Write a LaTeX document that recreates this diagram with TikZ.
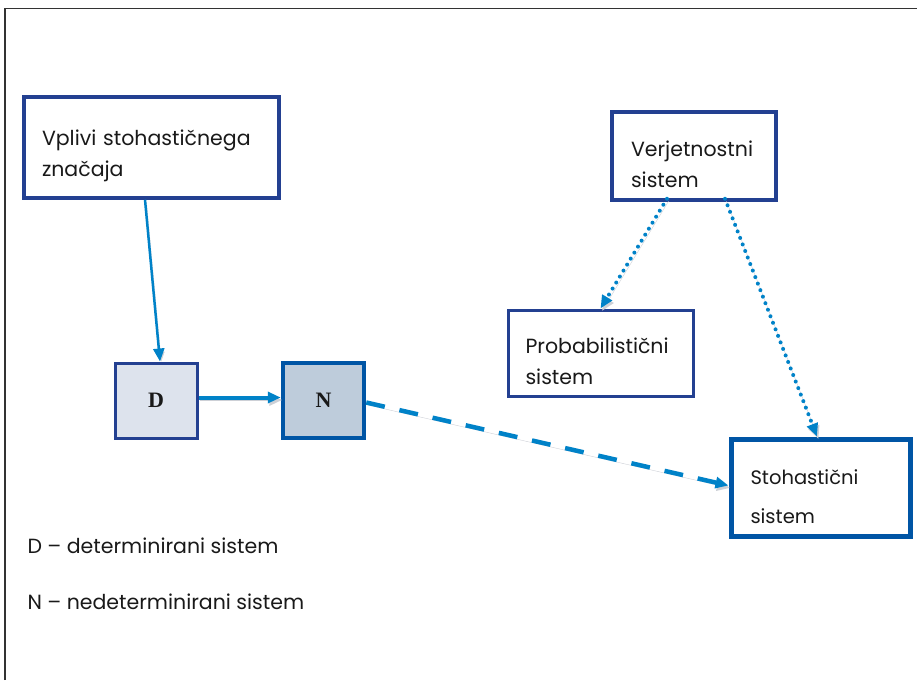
\documentclass[tikz,border=0pt]{standalone}
\usepackage{fontspec}
\setmainfont{Poppins}
\newfontfamily\boxserif{Liberation Serif}
\usetikzlibrary{arrows.meta, positioning, calc}
\definecolor{mynavy}{RGB}{35,64,145}
\definecolor{myblue}{RGB}{0,85,165}
\definecolor{myarrow}{RGB}{0,130,200}
\definecolor{mytext}{RGB}{25,25,25}
\definecolor{dfill}{RGB}{221,227,237}
\definecolor{nfill}{RGB}{190,204,219}
\definecolor{myshadow}{RGB}{205,208,214}
\tikzset{
  textbox/.style={rectangle, draw=mynavy, fill=white, line width=3.5pt,
    align=left, font=\fontsize{20.5}{31}\selectfont, text=mytext,
    inner sep=0pt, execute at begin node={\rule{0pt}{33pt}}},
  letterbox/.style={rectangle, draw=mynavy, line width=3pt,
    minimum width=82pt, minimum height=75pt, inner sep=0pt,
    font=\boxserif\bfseries\fontsize{22}{24}\selectfont, text=mytext},
  shadowed/.style={preaction={draw=myshadow, transform canvas={shift={(1.5pt,-2.5pt)}}}},
  link/.style={myarrow, shadowed, -{Triangle[length=13pt,width=11pt]}},
  legend/.style={anchor=west, font=\fontsize{20.5}{24}\selectfont, text=mytext}
}

\begin{document}
\begin{tikzpicture}[x=1pt, y=-1pt]
  \useasboundingbox (0,0) rectangle (917,680);
  % Frame
  \draw[line width=1.2pt, black!80] (5,680) -- (5,8.5) -- (917,8.5);

  % Boxes
  \node[textbox, minimum width=255pt, minimum height=101pt, text width=219pt]
    (vplivi) at (151.5,147.5) {Vplivi stohastičnega\\značaja};
  \node[letterbox, fill=dfill] (det) at (156,400.5) {D};
  \node[letterbox, fill=nfill, draw=myblue, line width=4.5pt,
    minimum width=81pt] (nedet) at (323.5,400.5) {N};
  \node[textbox, minimum width=164pt, minimum height=88pt, text width=126pt]
    (verj) at (694,156) {Verjetnostni\\sistem};
  \node[textbox, line width=3pt, minimum width=185pt, minimum height=86pt,
    text width=150pt] (prob) at (600.5,353) {Probabilistični\\sistem};
  \node[textbox, draw=myblue, line width=5pt, minimum width=179pt,
    minimum height=97pt, text width=140pt,
    font=\fontsize{19.5}{39}\selectfont] (stoh) at (820.5,487.5) {Stohastični\\sistem};

  % Connectors
  \draw[link, line width=2.5pt] ([xshift=-6.5pt]vplivi.south) -- ([xshift=4pt]det.north);
  \draw[link, line width=4pt] ([yshift=3pt]det.east) -- ([yshift=3pt]nedet.west);
  \draw[link, line width=4.5pt, dash pattern=on 19pt off 15pt]
    ([yshift=-2pt]nedet.east) -- ([yshift=2pt]stoh.west);
  \draw[link, line width=4pt, line cap=round, dash pattern=on 0pt off 7pt]
    ([xshift=-27pt, yshift=3pt]verj.south) -- (prob.north);
  \draw[link, line width=4pt, line cap=round, dash pattern=on 0pt off 7pt]
    ([xshift=31pt, yshift=3pt]verj.south) -- ([xshift=-3.5pt]stoh.north);

  % Legend
  \node[legend] (legd) at (24,546) {D -- determinirani sistem};
  \node[legend] (legn) at (24,602) {N -- nedeterminirani sistem};
\end{tikzpicture}
\end{document}
